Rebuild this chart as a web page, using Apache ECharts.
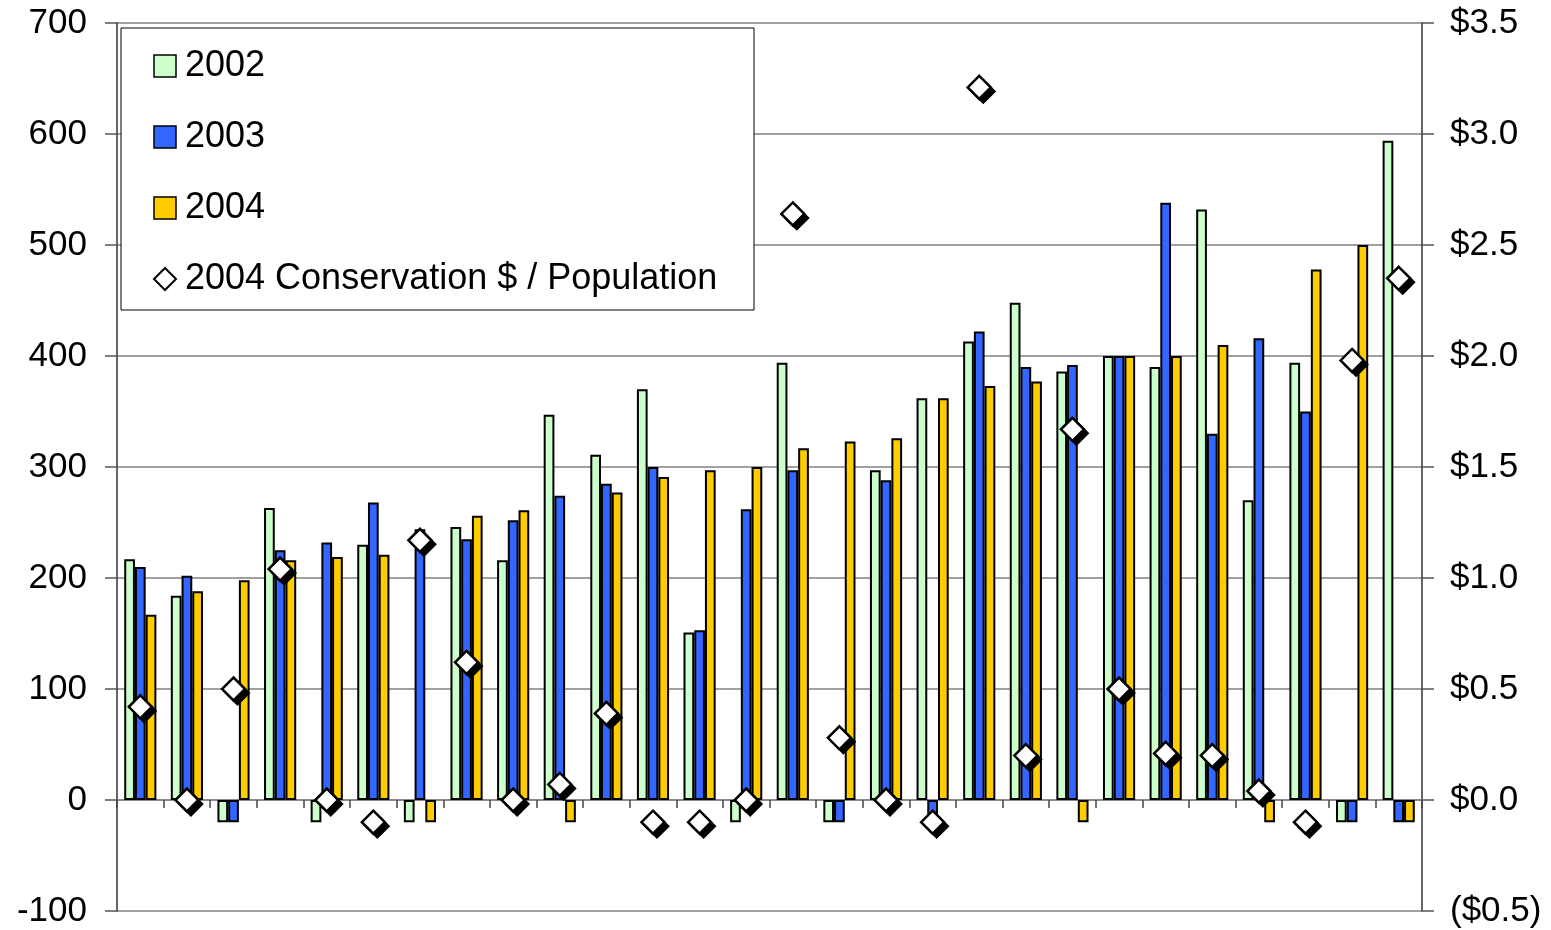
<!DOCTYPE html>
<html>
<head>
<meta charset="utf-8">
<script src="https://cdn.jsdelivr.net/npm/echarts@6/dist/echarts.min.js"></script>
<style>
  html, body { margin: 0; padding: 0; background: #fff; }
  #chart { width: 1551px; height: 930px; }
</style>
</head>
<body>
<div id="chart"></div>
<script>
// Groups along the horizontal axis (no labels drawn)
const categories = ['1','2','3','4','5','6','7','8','9','10','11','12','13','14',
                    '15','16','17','18','19','20','21','22','23','24','25','26','27','28'];

// Bar values per year (left axis); -20 marks a missing entry
const values2002 = [217, 184, -20, 263, -20, 230, -20, 246, 216, 347, 311, 370, 151, -20,
                    394, -20, 297, 362, 413, 448, 386, 400, 390, 532, 270, 394, -20, 594];
const values2003 = [210, 202, -20, 225, 232, 268, 244, 235, 252, 274, 285, 300, 153, 262,
                    297, -20, 288, -20, 422, 390, 392, 400, 538, 330, 416, 350, -20, -20];
const values2004 = [167, 188, 198, 216, 219, 221, -20, 256, 261, -20, 277, 291, 297, 300,
                    317, 323, 326, 362, 373, 377, -20, 400, 400, 410, -20, 478, 500, -20];

// 2004 conservation dollars per head (right axis)
const conservationPerCapita = [0.42, 0.00, 0.50, 1.04, 0.00, -0.10, 1.17, 0.62, 0.00, 0.07, 0.39, -0.10, -0.10, 0.00,
                               2.64, 0.28, 0.00, -0.10, 3.21, 0.20, 1.67, 0.50, 0.21, 0.20, 0.04, -0.10, 1.98, 2.35];

const seriesNames = ['2002', '2003', '2004', '2004 Conservation $ / Population'];

const FONT = '"Liberation Sans", Arial, Helvetica, sans-serif';
const chart = echarts.init(document.getElementById('chart'), null, { renderer: 'canvas' });

function barSeries(name, data, color) {
  return {
    name: name,
    type: 'bar',
    data: data,
    barGap: '0%',
    barCategoryGap: '31%',
    itemStyle: { color: color, borderColor: '#000', borderWidth: 2 },
    emphasis: { disabled: true }
  };
}

const option = {
  animation: false,
  backgroundColor: '#fff',
  textStyle: { fontFamily: FONT },
  grid: { left: 117, right: 129, top: 23, bottom: 19, containLabel: false },
  graphic: [{
    type: 'rect',
    shape: { x: 121, y: 28, width: 633, height: 282 },
    style: { fill: '#fff', stroke: '#000', lineWidth: 1 },
    z: 5
  }],
  legend: {
    orient: 'vertical',
    left: 153,
    top: 48,
    padding: 0,
    itemWidth: 22,
    itemHeight: 22,
    itemGap: 35,
    z: 10,
    textStyle: { fontFamily: FONT, fontSize: 36, color: '#000', lineHeight: 36, padding: [0, 0, 0, 4] },
    data: [
      { name: seriesNames[0], icon: 'rect', itemStyle: { borderWidth: 1.5 } },
      { name: seriesNames[1], icon: 'rect', itemStyle: { borderWidth: 1.5 } },
      { name: seriesNames[2], icon: 'rect', itemStyle: { borderWidth: 1.5 } },
      { name: seriesNames[3], icon: 'diamond',
        itemStyle: { color: '#fff', borderColor: '#000', borderWidth: 2 } }
    ]
  },
  xAxis: {
    type: 'category',
    data: categories,
    boundaryGap: true,
    axisLine: { show: true, onZero: true, lineStyle: { color: '#808080', width: 1.5 } },
    axisTick: { show: true, inside: false, length: 8, lineStyle: { color: '#444', width: 1.5 } },
    axisLabel: { show: false },
    splitLine: { show: false }
  },
  yAxis: [
    {
      type: 'value',
      position: 'left',
      min: -100,
      max: 700,
      interval: 100,
      axisLine: { show: true, lineStyle: { color: '#333', width: 1.5 } },
      axisTick: { show: true, length: 12, lineStyle: { color: '#555', width: 1.5 } },
      axisLabel: { margin: 30, fontSize: 35, color: '#000', fontFamily: FONT },
      splitLine: { show: true, lineStyle: { color: '#808080', width: 1.5 } }
    },
    {
      type: 'value',
      position: 'right',
      min: -0.5,
      max: 3.5,
      interval: 0.5,
      axisLine: { show: true, lineStyle: { color: '#333', width: 1.5 } },
      axisTick: { show: true, length: 12, lineStyle: { color: '#555', width: 1.5 } },
      axisLabel: {
        margin: 28, fontSize: 35, color: '#000', fontFamily: FONT,
        formatter: function (v) {
          const s = '$' + Math.abs(v).toFixed(1);
          return v < 0 ? '(' + s + ')' : s;
        }
      },
      splitLine: { show: false }
    }
  ],
  series: [
    barSeries(seriesNames[0], values2002, '#CCFFCC'),
    barSeries(seriesNames[1], values2003, '#3366FF'),
    barSeries(seriesNames[2], values2004, '#FFCC00'),
    {
      // drop shadow under each diamond
      name: 'shadow',
      type: 'scatter',
      yAxisIndex: 1,
      data: conservationPerCapita,
      symbol: 'diamond',
      symbolSize: 23,
      symbolOffset: [4, 4],
      itemStyle: { color: '#000', borderColor: '#000', borderWidth: 2, opacity: 1 },
      emphasis: { disabled: true },
      z: 3
    },
    {
      name: seriesNames[3],
      type: 'scatter',
      yAxisIndex: 1,
      data: conservationPerCapita,
      symbol: 'diamond',
      symbolSize: 23,
      itemStyle: { color: '#fff', borderColor: '#000', borderWidth: 2.5, opacity: 1 },
      emphasis: { disabled: true },
      z: 4
    }
  ]
};

chart.setOption(option);
</script>
</body>
</html>
